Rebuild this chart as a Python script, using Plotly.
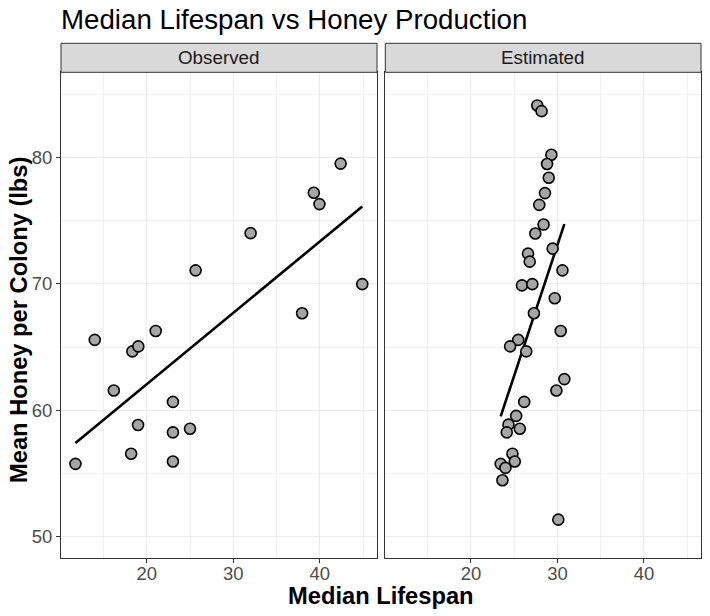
import numpy as np
import plotly.graph_objects as go

# ---- data ----
obs_lifespan = [42.4, 39.3, 39.95, 32.0, 25.65, 44.9, 37.95, 14.0, 21.04, 18.34,
                19.03, 16.2, 23.03, 19.0, 23.03, 25.0, 18.2, 23.03, 11.77]
obs_honey = [79.5, 77.2, 76.3, 74.0, 71.06, 69.97, 67.67, 65.56, 66.27, 64.65,
             65.05, 61.56, 60.66, 58.83, 58.25, 58.54, 56.56, 55.95, 55.76]

est_lifespan = [27.67, 28.17, 29.3, 28.8, 29.0, 28.56, 27.9, 28.4, 27.44, 29.45,
                26.6, 26.8, 30.58, 25.9, 27.1, 29.69, 27.28, 30.38, 25.47, 24.53,
                26.4, 30.8, 29.88, 26.16, 25.23, 24.34, 25.65, 24.14, 24.8, 25.07,
                23.44, 23.99, 23.64, 30.1]
est_honey = [84.1, 83.65, 80.2, 79.47, 78.38, 77.17, 76.24, 74.68, 73.97, 72.78,
             72.38, 71.75, 71.06, 69.87, 69.97, 68.86, 67.67, 66.27, 65.56, 65.05,
             64.65, 62.46, 61.56, 60.66, 59.55, 58.86, 58.54, 58.25, 56.56, 55.95,
             55.76, 55.44, 54.46, 51.35]

panels = ["Observed", "Estimated"]
x_ticks = [20, 30, 40]
y_ticks = [50, 60, 70, 80]

FONT = "Liberation Sans, Arial, Helvetica, sans-serif"
W, H = 710, 616

fig = go.Figure()

def add_panel(xs, ys, xa, ya):
    xs = np.array(xs); ys = np.array(ys)
    b, a = np.polyfit(xs, ys, 1)
    lx = np.array([xs.min(), xs.max()])
    fig.add_trace(go.Scatter(x=lx, y=a + b * lx, mode="lines",
                             line=dict(color="black", width=2.6),
                             xaxis=xa, yaxis=ya, showlegend=False, hoverinfo="skip"))
    fig.add_trace(go.Scatter(x=xs, y=ys, mode="markers",
                             marker=dict(size=11, color="#A6A6A6",
                                         line=dict(color="black", width=1.6)),
                             xaxis=xa, yaxis=ya, showlegend=False))

add_panel(obs_lifespan, obs_honey, "x", "y")
add_panel(est_lifespan, est_honey, "x2", "y2")

def px_x(p):
    return p / W

def px_y(p):
    return 1 - p / H

ydom = [px_y(557.7), px_y(72.3)]
xrange_ = [10.1, 46.6]
yrange_ = [48.34, 86.72]

TICKFONT = dict(family=FONT, size=18.5, color="#4D4D4D")

common_x = dict(range=xrange_, tickvals=x_ticks, ticks="outside", ticklen=4,
                tickcolor="#333333", tickwidth=1, tickfont=TICKFONT,
                ticklabelstandoff=-5,
                showgrid=True, gridcolor="#EBEBEB", gridwidth=1.1,
                minor=dict(dtick=5, tick0=0, showgrid=True, gridcolor="#F0F0F0", gridwidth=0.6),
                showline=True, linecolor="#333333", linewidth=1, mirror=True,
                zeroline=False)
common_y = dict(range=yrange_, domain=ydom, tickvals=y_ticks,
                showgrid=True, gridcolor="#EBEBEB", gridwidth=1.1,
                minor=dict(dtick=5, tick0=0, showgrid=True, gridcolor="#F0F0F0", gridwidth=0.6),
                showline=True, linecolor="#333333", linewidth=1, mirror=True,
                zeroline=False)

fig.update_layout(
    width=W, height=H,
    margin=dict(l=0, r=0, t=0, b=0),
    paper_bgcolor="white", plot_bgcolor="white",
    xaxis=dict(domain=[px_x(61), px_x(377)], anchor="y", **common_x),
    xaxis2=dict(domain=[px_x(385.3), px_x(701)], anchor="y2", **common_x),
    yaxis=dict(anchor="x", ticks="outside", ticklen=4, tickcolor="#333333", tickwidth=1,
               tickfont=TICKFONT, **common_y),
    yaxis2=dict(anchor="x2", matches="y", showticklabels=False, ticks="", **common_y),
    font=dict(family=FONT),
)

# strips
strip_bot, strip_top = px_y(72.3), px_y(43.3)
for name, (x0, x1) in zip(panels, [(61, 377), (385.3, 701)]):
    fig.add_shape(type="rect", xref="paper", yref="paper",
                  x0=px_x(x0), x1=px_x(x1), y0=strip_bot, y1=strip_top,
                  fillcolor="#D9D9D9", line=dict(color="#333333", width=1))
    fig.add_annotation(xref="paper", yref="paper", x=px_x((x0 + x1) / 2),
                       y=(strip_bot + strip_top) / 2, text=name, showarrow=False,
                       xanchor="center", yanchor="middle",
                       font=dict(family=FONT, size=18.8, color="#1A1A1A"))

# title
fig.add_annotation(xref="paper", yref="paper", x=px_x(59), y=px_y(19),
                   text="Median Lifespan vs Honey Production", showarrow=False,
                   xanchor="left", yanchor="middle",
                   font=dict(family=FONT, size=27.7, color="black"))

# axis titles
fig.add_annotation(xref="paper", yref="paper", x=px_x(381), y=px_y(596),
                   text="<b>Median Lifespan</b>", showarrow=False,
                   xanchor="center", yanchor="middle",
                   font=dict(family=FONT, size=23.7, color="black"))
fig.add_annotation(xref="paper", yref="paper", x=px_x(19), y=px_y(320),
                   text="<b>Mean Honey per Colony (lbs)</b>", showarrow=False,
                   textangle=-90, xanchor="center", yanchor="middle",
                   font=dict(family=FONT, size=23.7, color="black"))

fig.write_html("out.html", config={"displayModeBar": False},
               post_script="document.body.style.margin='0px';")
